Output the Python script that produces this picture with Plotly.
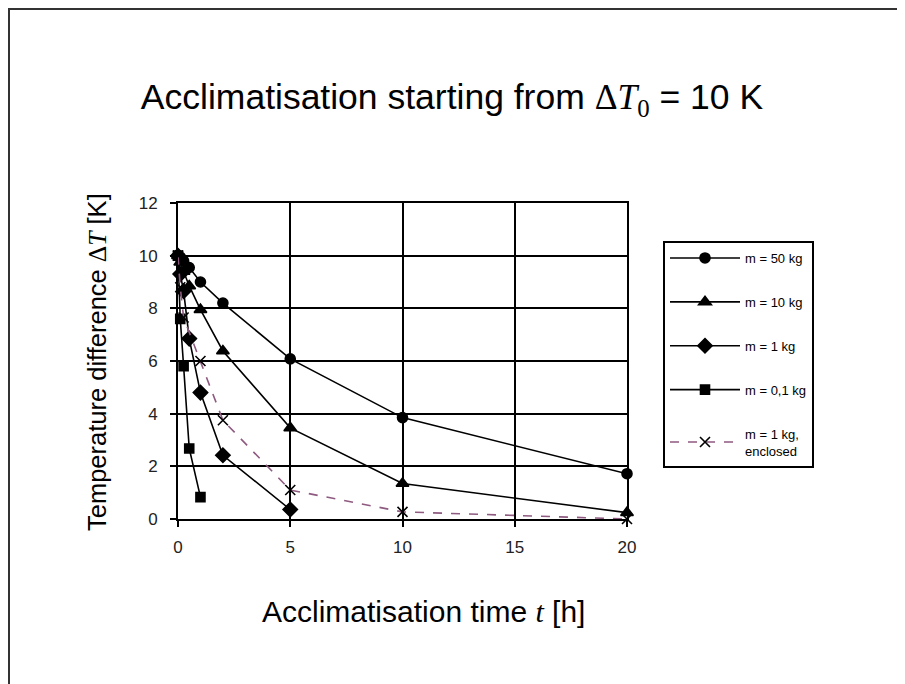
import plotly.graph_objects as go

# ---- data ----
t_50 = [0, 0.1, 0.25, 0.5, 1, 2, 5, 10, 20]
dT_50 = [10.0, 9.95, 9.8, 9.55, 9.0, 8.2, 6.08, 3.85, 1.72]

t_10 = [0, 0.1, 0.25, 0.5, 1, 2, 5, 10, 20]
dT_10 = [10.0, 9.75, 9.4, 8.85, 7.95, 6.38, 3.46, 1.35, 0.24]

t_1 = [0, 0.1, 0.25, 0.5, 1, 2, 5]
dT_1 = [10.0, 9.3, 8.65, 6.85, 4.8, 2.42, 0.36]

t_01 = [0, 0.1, 0.25, 0.5, 1]
dT_01 = [10.0, 7.6, 5.8, 2.68, 0.83]

t_enc = [0, 0.1, 0.25, 1, 2, 5, 10, 20]
dT_enc = [10.0, 8.8, 7.65, 6.0, 3.75, 1.1, 0.27, 0.0]

names = ["m = 50 kg", "m = 10 kg", "m = 1 kg", "m = 0,1 kg", "m = 1 kg,<br>enclosed"]
x_ticks = [0, 5, 10, 15, 20]
y_ticks = [0, 2, 4, 6, 8, 10, 12]

# page body adds an 8px offset; work in screen coordinates and convert
OFF = 8
W, H = 905 - OFF, 684 - OFF
SL, SR, ST, SB = 178, 627, 203, 519          # plot area in screen px
pw, ph = SR - SL, SB - ST


def px(xs):
    return (xs - SL) / pw


def py(ys):
    return (SB - ys) / ph


fig = go.Figure()
series = [
    (t_50, dT_50, names[0], "circle", 10, "black", "solid"),
    (t_10, dT_10, names[1], "triangle-up", 11, "black", "solid"),
    (t_1, dT_1, names[2], "diamond", 11, "black", "solid"),
    (t_01, dT_01, names[3], "square", 9, "black", "solid"),
    (t_enc, dT_enc, names[4], "x-thin", 10, "#8e5a80", "dash"),
]
for i, (x, y, nm, sym, sz, col, dash) in enumerate(series):
    fig.add_trace(go.Scatter(
        x=x, y=y, name=nm, mode="lines+markers",
        line=dict(color=col, width=1.6, dash=dash),
        marker=dict(symbol=sym, size=sz, color="black",
                    line=dict(color="black", width=1.6)),
        legendgroup=f"g{i}", cliponaxis=False,
    ))

SERIF = "Liberation Serif, DejaVu Serif, serif"
title_txt = ("Acclimatisation starting from "
             f"<span style='font-family:{SERIF}'>Δ<i>T</i><sub>0</sub></span>"
             " = 10 K")
ytitle = ("Temperature difference "
          f"<span style='font-family:{SERIF}'>Δ<i>T</i></span> [K]")
xtitle = ("Acclimatisation time "
          f"<span style='font-family:{SERIF}'><i>t</i></span> [h]")

fig.update_layout(
    width=W, height=H,
    margin=dict(l=SL - OFF, r=W - (SR - OFF), t=ST - OFF, b=H - (SB - OFF), pad=0),
    paper_bgcolor="white", plot_bgcolor="white",
    font=dict(family="Liberation Sans, Arial, sans-serif", color="black"),
    title=dict(text=title_txt, x=px(452), xref="paper", xanchor="center",
               y=1 - (97 - OFF) / H, yanchor="middle",
               font=dict(size=35.5, color="black")),
    showlegend=True,
    legend=dict(x=px(663), y=py(241), xanchor="left", yanchor="top",
                bordercolor="black", borderwidth=2, bgcolor="white",
                font=dict(size=13, color="black"), tracegroupgap=24,
                itemwidth=70),
    xaxis=dict(range=[0, 20], tickvals=x_ticks, showgrid=True, gridcolor="black",
               gridwidth=2, zeroline=False, showline=True, linecolor="black",
               linewidth=2, mirror=True, ticks="outside", ticklen=6, tickwidth=2,
               tickcolor="black", tickfont=dict(size=17, color="#222"),
               ticklabelstandoff=6),
    yaxis=dict(range=[0, 12], tickvals=y_ticks, showgrid=True, gridcolor="black",
               gridwidth=2, zeroline=False, showline=True, linecolor="black",
               linewidth=2, mirror=True, ticks="outside", ticklen=6, tickwidth=2,
               tickcolor="black", tickfont=dict(size=17, color="#222"),
               ticklabelstandoff=9),
    annotations=[
        dict(text=xtitle, xref="paper", yref="paper", x=px(423), y=py(611),
             xanchor="center", yanchor="middle", showarrow=False,
             font=dict(size=30, color="black")),
        dict(text=ytitle, xref="paper", yref="paper", x=px(97), y=py(362),
             xanchor="center", yanchor="middle", showarrow=False, textangle=-90,
             font=dict(size=25.5, color="black")),
    ],
    shapes=[
        dict(type="line", xref="paper", yref="paper", x0=px(8), x1=px(920),
             y0=py(9), y1=py(9), line=dict(color="#333", width=2)),
        dict(type="line", xref="paper", yref="paper", x0=px(9), x1=px(9),
             y0=py(9), y1=py(700), line=dict(color="#333", width=2)),
    ],
)

fig.write_html("out.html")
